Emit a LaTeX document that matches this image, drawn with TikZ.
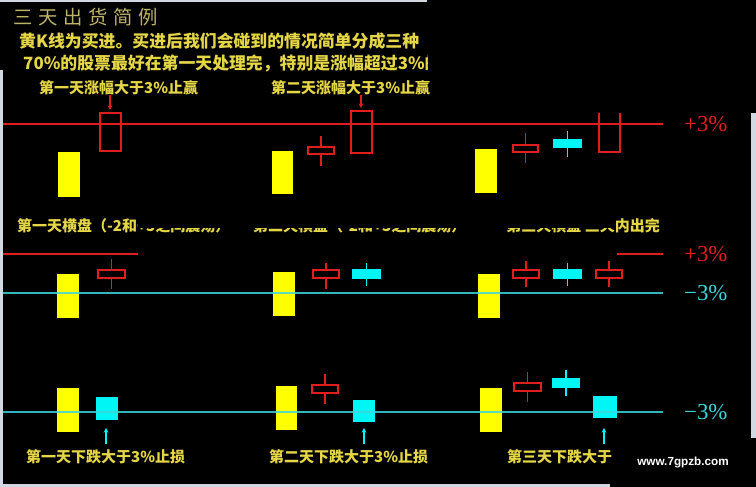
\documentclass[tikz,border=0pt]{standalone}
\usepackage{fontspec}
\usepackage{tikz}
\usetikzlibrary{arrows.meta}

\newfontfamily\cjk{Noto Sans CJK SC}
\newfontfamily\cjktitle[LetterSpace=30]{Noto Sans CJK SC}
\newfontfamily\webfont{Liberation Sans}
\newfontfamily\pctfont{Liberation Serif}

\definecolor{kred}{RGB}{225,30,30}
\definecolor{kcyan}{RGB}{0,245,245}
\definecolor{kline}{RGB}{60,215,220}
\definecolor{kyellow}{RGB}{255,255,0}
\definecolor{ktext}{RGB}{228,214,70}
\definecolor{ktitle}{RGB}{190,180,105}
\definecolor{kedge}{RGB}{210,216,226}

\tikzset{
  redk/.style={draw=kred, line width=1.4pt, fill=black},
  cyank/.style={draw=kcyan, line width=1.4pt, fill=kcyan},
  yelk/.style={fill=kyellow},
  redline/.style={draw=kred, line width=2pt},
  cyanline/.style={draw=kline, line width=2pt, opacity=0.85},
  titletxt/.style={font=\cjktitle\fontsize{16.5}{18}\selectfont, text=ktitle, inner sep=0pt},
  bigtxt/.style={font=\cjk\bfseries\fontsize{14.4}{16}\selectfont, text=ktext, inner sep=0pt},
  lbl/.style={font=\cjk\bfseries\fontsize{12.8}{14}\selectfont, text=ktext, inner sep=0pt},
  pct/.style={font=\pctfont\fontsize{19.5}{21}\selectfont, inner sep=0pt, anchor=west, xshift=0.6cm}
}

% one K line: style, left, right, high, body top, body bottom, low
\newcommand{\kbar}[7]{%
  \draw[#1] ({(#2+#3)/2},#4) -- ({(#2+#3)/2},#7);
  \draw[#1] (#2,#5) rectangle (#3,#6);}

\begin{document}
\begin{tikzpicture}[x=0.03cm, y=-0.03cm, >={Stealth[length=4pt,width=4pt]}]
  % background and light edges
  \useasboundingbox (0,0) rectangle (756,487);
  \fill[black] (0,0) rectangle (756,487);
  \fill[kedge] (0,0) rectangle (427,2);
  \fill[kedge] (0,70) rectangle (3,484);
  \fill[kedge] (0,484) rectangle (610,487);
  \fill[kedge] (751,113) rectangle (756,438);

  % heading
  \node[titletxt, anchor=west] (title) at (13,17.5) {三天出货简例};
  \node[bigtxt, anchor=west] (intro) at (19,41.5) {黄K线为买进。买进后我们会碰到的情况简单分成三种};
  \begin{scope}
    \clip (0,50) rectangle (427,76);
    \node[bigtxt, anchor=west] (rule) at (23,63) {70\%的股票最好在第一天处理完，特别是涨幅超过3\%的};
  \end{scope}

  % row 1: rising above +3%
  \node[lbl, anchor=west] (win1) at (39,88) {第一天涨幅大于3\%止赢};
  \node[lbl, anchor=west] (win2) at (271,88) {第二天涨幅大于3\%止赢};
  \fill[yelk] (58,152) rectangle (80,197);
  \draw[redk] (100,113) rectangle (121,151);
  \fill[yelk] (272,151) rectangle (293,194);
  \kbar{redk}{308}{334}{136}{147}{154}{166}
  \draw[redk] (351,111) rectangle (372,153);
  \fill[yelk] (475,149) rectangle (497,193);
  \kbar{redk}{513}{538}{133}{145}{152}{163}
  \kbar{cyank}{554}{581}{131}{140}{147}{157}
  \draw[redk, fill=none] (599,113) |- (620,152) -- (620,113);
  \coordinate (top1) at (110,110);
  \coordinate (top2) at (361,108);
  \draw[redline, line width=1.2pt, ->] (win1.south -| top1) -- (top1);
  \draw[redline, line width=1.2pt, ->] (win2.south -| top2) -- (top2);
  \draw[redline] (3,124) -- (663,124) node[pct, text=kred] (up1) {+3\%};

  % row 1 notes, partly hidden
  \begin{scope}
    \clip (0,205) rectangle (137,240) (137,227.5) rectangle (615,240) (615,205) rectangle (756,240);
    \node[lbl, anchor=west] (flat1) at (17,226) {第一天横盘（-2和+3之间震荡）};
    \node[lbl, anchor=west] (flat2) at (253,226) {第二天横盘（-2和+3之间震荡）};
    \node[lbl, anchor=east] (flat3) at (660,226) {第三天横盘 三天内出完};
  \end{scope}

  % row 2: staying between -3% and +3%
  \fill[yelk] (57,274) rectangle (79,318);
  \kbar{redk}{98}{125}{259}{270}{278}{289}
  \fill[yelk] (273,272) rectangle (295,316);
  \kbar{redk}{313}{339}{263}{270}{278}{289}
  \kbar{cyank}{353}{380}{263}{270}{278}{286}
  \fill[yelk] (478,274) rectangle (500,318);
  \kbar{redk}{513}{539}{261}{270}{278}{287}
  \kbar{cyank}{554}{581}{263}{270}{278}{286}
  \kbar{redk}{596}{622}{261}{270}{278}{287}
  \draw[redline] (3,254) -- (138,254);
  \draw[redline] (617,254) -- (663,254) node[pct, text=kred] (up2) {+3\%};
  \draw[cyanline] (3,293) -- (663,293) node[pct, text=kline, opacity=1] (dn2) {−3\%};

  % row 3: falling below -3%
  \fill[yelk] (57,388) rectangle (79,432);
  \fill[kcyan] (96,397) rectangle (118,420);
  \fill[yelk] (276,386) rectangle (297,430);
  \kbar{redk}{312}{338}{374}{385}{393}{404}
  \fill[kcyan] (353,400) rectangle (375,422);
  \fill[yelk] (480,388) rectangle (502,432);
  \kbar{redk}{514}{541}{372}{383}{391}{402}
  \kbar{cyank}{553}{579}{370}{379}{387}{396}
  \fill[kcyan] (593,396) rectangle (617,418);
  \draw[cyanline] (3,412) -- (663,412) node[pct, text=kline, opacity=1] (dn3) {−3\%};

  \node[lbl, anchor=west] (loss1) at (26,457) {第一天下跌大于3\%止损};
  \node[lbl, anchor=west] (loss2) at (269,457) {第二天下跌大于3\%止损};
  \node[lbl, anchor=west] (loss3) at (507,457) {第三天下跌大于};
  \coordinate (bot1) at (106,428);
  \coordinate (bot2) at (364,428);
  \coordinate (bot3) at (604,428);
  \foreach \k in {1,2,3}
    \draw[draw=kcyan, line width=1.2pt, shorten <=5pt, ->] (loss\k.north -| bot\k) -- (bot\k);

  % site mark in the corner
  \node[text=white, font=\webfont\bfseries\fontsize{10}{12}\selectfont, inner sep=0pt] (site) at (683,462.5) {www.7gpzb.com};
\end{tikzpicture}
\end{document}
